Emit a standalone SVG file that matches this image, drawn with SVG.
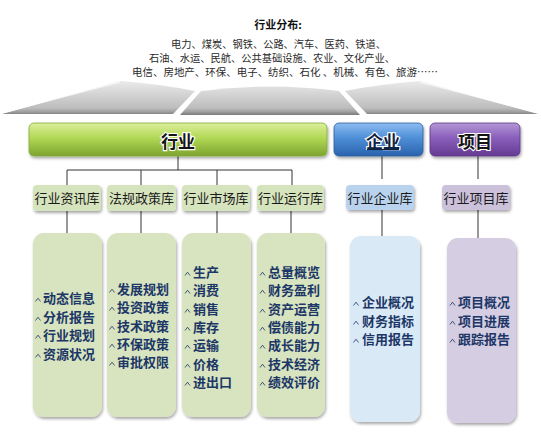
<svg xmlns="http://www.w3.org/2000/svg" width="541" height="432" viewBox="0 0 541 432">
<defs>
  <style>
    .top { font-family: "Noto Sans CJK SC", "Liberation Sans", sans-serif; font-size: 10px; fill: #2a2a2a; }
    .title { font-family: "Noto Sans CJK SC", "Liberation Sans", sans-serif; font-size: 11px; font-weight: bold; fill: #111; }
    .bar { font-family: "Noto Sans CJK SC", "Liberation Sans", sans-serif; font-size: 17px; font-weight: bold; fill: #141414; text-anchor: middle; stroke: #ffffff; stroke-width: 2.2px; paint-order: stroke; }
    .sub { font-family: "Noto Sans CJK SC", "Liberation Sans", sans-serif; font-size: 13px; fill: #1a1a1a; text-anchor: middle; }
    .item { font-family: "Noto Sans CJK SC", "Liberation Sans", sans-serif; font-size: 13px; font-weight: bold; fill: #1c3767; }
    .conn { stroke: #333; stroke-width: 1; fill: none; }
    .bul { stroke: #1c3767; stroke-width: 0.8; fill: none; }
  </style>
  <linearGradient id="gGray" x1="0" y1="80" x2="0" y2="115" gradientUnits="userSpaceOnUse">
    <stop offset="0" stop-color="#ececec"/>
    <stop offset="0.8" stop-color="#bdbdbd"/>
    <stop offset="0.9" stop-color="#a2a2a2"/>
    <stop offset="1" stop-color="#7a7a7a"/>
  </linearGradient>
  <linearGradient id="gGreen" x1="0" y1="0" x2="0" y2="1">
    <stop offset="0" stop-color="#dcef9c"/>
    <stop offset="0.45" stop-color="#b2d856"/>
    <stop offset="1" stop-color="#7da52e"/>
  </linearGradient>
  <linearGradient id="gBlue" x1="0" y1="0" x2="0" y2="1">
    <stop offset="0" stop-color="#8dbdf0"/>
    <stop offset="0.45" stop-color="#4f8fd8"/>
    <stop offset="1" stop-color="#2a62ad"/>
  </linearGradient>
  <linearGradient id="gPurple" x1="0" y1="0" x2="0" y2="1">
    <stop offset="0" stop-color="#b497d6"/>
    <stop offset="0.45" stop-color="#8a5fbb"/>
    <stop offset="1" stop-color="#653a92"/>
  </linearGradient>
  <filter id="sh" x="-10%" y="-10%" width="125%" height="130%">
    <feGaussianBlur in="SourceAlpha" stdDeviation="1.5"/>
    <feOffset dx="1" dy="2" result="b"/>
    <feComponentTransfer><feFuncA type="linear" slope="0.35"/></feComponentTransfer>
    <feMerge><feMergeNode/><feMergeNode in="SourceGraphic"/></feMerge>
  </filter>
  <path id="bullet" class="bul" d="M-2.5,1.5 L0,-1.8 L2.5,1.5"/>
</defs>
<rect x="0" y="0" width="541" height="432" fill="#ffffff"/>

<g id="header">
  <text class="title" x="278" y="29" text-anchor="middle">行业分布:</text>
  <text class="top" x="171" y="48" textLength="215" lengthAdjust="spacingAndGlyphs">电力、煤炭、钢铁、公路、汽车、医药、铁道、</text>
  <text class="top" x="149" y="62" textLength="246" lengthAdjust="spacingAndGlyphs">石油、水运、民航、公共基础设施、农业、文化产业、</text>
  <text class="top" x="132" y="76" textLength="306" lengthAdjust="spacingAndGlyphs">电信、房地产、环保、电子、纺织、石化 、机械、有色、旅游……</text>
</g>

<g id="fan">
  <path d="M2,114 L120,81 Q160,84 195,91 L173,114 Z" fill="url(#gGray)"/>
  <path d="M201,91 Q270,82 339,91 L360,115 L180,115 Z" fill="url(#gGray)"/>
  <path d="M345,91 Q380,84 420,81 L538,114 L367,114 Z" fill="url(#gGray)"/>
  <path d="M6,112 L120,82" stroke="#ffffff" stroke-width="1.2" opacity="0.8"/>
  <path d="M420,82 L534,112" stroke="#ffffff" stroke-width="1.2" opacity="0.8"/>
</g>

<g id="connectors">
  <path class="conn" d="M178,156 V170 M67,170 H292 M67,170 V185 M141,170 V185 M217,170 V185 M292,170 V185"/>
  <path class="conn" d="M67,211 V234 M141,211 V234 M217,211 V234 M291,211 V234"/>
  <path class="conn" d="M382,156 V179 M382,210 V237"/>
  <path class="conn" d="M478,156 V179 M478,210 V239"/>
</g>

<g id="bar-hangye">
  <rect x="29" y="123" width="298" height="33" rx="5" fill="url(#gGreen)" stroke="#87a93c" stroke-width="0.8" filter="url(#sh)"/>
  <text class="bar" x="178" y="147.5">行业</text>
</g>
<g id="bar-qiye">
  <rect x="334" y="123" width="89" height="33" rx="5" fill="url(#gBlue)" stroke="#2c5f9f" stroke-width="0.8" filter="url(#sh)"/>
  <text class="bar" x="383" y="147.5" style="fill:#0e2242">企业</text>
  <path d="M367,149.5 H399" stroke="#0e2242" stroke-width="1.2"/>
</g>
<g id="bar-xiangmu">
  <rect x="430" y="123" width="90" height="33" rx="5" fill="url(#gPurple)" stroke="#5e3787" stroke-width="0.8" filter="url(#sh)"/>
  <text class="bar" x="475" y="147.5">项目</text>
</g>

<g id="sub-zixun">
  <rect x="33" y="185" width="68" height="26" rx="4" fill="#d6e4bd" filter="url(#sh)"/>
  <text class="sub" x="67" y="203">行业资讯库</text>
</g>
<g id="sub-fagui">
  <rect x="107" y="185" width="69" height="26" rx="4" fill="#d6e4bd" filter="url(#sh)"/>
  <text class="sub" x="141.5" y="203">法规政策库</text>
</g>
<g id="sub-shichang">
  <rect x="182" y="185" width="68" height="26" rx="4" fill="#d6e4bd" filter="url(#sh)"/>
  <text class="sub" x="216" y="203">行业市场库</text>
</g>
<g id="sub-yunxing">
  <rect x="257" y="185" width="67" height="26" rx="4" fill="#d6e4bd" filter="url(#sh)"/>
  <text class="sub" x="290.5" y="203">行业运行库</text>
</g>
<g id="sub-qiye">
  <rect x="346" y="185" width="68" height="25" rx="4" fill="#b9d3ef" filter="url(#sh)"/>
  <text class="sub" x="380" y="202.5">行业企业库</text>
</g>
<g id="sub-xiangmu">
  <rect x="442" y="185" width="68" height="25" rx="4" fill="#ccc1db" filter="url(#sh)"/>
  <text class="sub" x="476" y="202.5">行业项目库</text>
</g>

<g id="box-zixun">
  <rect x="33" y="233" width="69" height="184" rx="11" fill="#d7e4bf" filter="url(#sh)"/>
  <use href="#bullet" x="38" y="300"/><text class="item" x="43" y="303">动态信息</text>
  <use href="#bullet" x="38" y="319"/><text class="item" x="43" y="322">分析报告</text>
  <use href="#bullet" x="38" y="337"/><text class="item" x="43" y="340">行业规划</text>
  <use href="#bullet" x="38" y="356"/><text class="item" x="43" y="359">资源状况</text>
</g>
<g id="box-fagui">
  <rect x="107" y="233" width="69" height="184" rx="11" fill="#d7e4bf" filter="url(#sh)"/>
  <use href="#bullet" x="112" y="291"/><text class="item" x="117" y="294">发展规划</text>
  <use href="#bullet" x="112" y="309"/><text class="item" x="117" y="312">投资政策</text>
  <use href="#bullet" x="112" y="328"/><text class="item" x="117" y="331">技术政策</text>
  <use href="#bullet" x="112" y="346"/><text class="item" x="117" y="349">环保政策</text>
  <use href="#bullet" x="112" y="364"/><text class="item" x="117" y="367">审批权限</text>
</g>
<g id="box-shichang">
  <rect x="182" y="233" width="69" height="184" rx="11" fill="#d7e4bf" filter="url(#sh)"/>
  <use href="#bullet" x="187.5" y="274"/><text class="item" x="193" y="277">生产</text>
  <use href="#bullet" x="187.5" y="292"/><text class="item" x="193" y="295">消费</text>
  <use href="#bullet" x="187.5" y="311"/><text class="item" x="193" y="314">销售</text>
  <use href="#bullet" x="187.5" y="329"/><text class="item" x="193" y="332">库存</text>
  <use href="#bullet" x="187.5" y="347"/><text class="item" x="193" y="350">运输</text>
  <use href="#bullet" x="187.5" y="366"/><text class="item" x="193" y="369">价格</text>
  <use href="#bullet" x="187.5" y="384"/><text class="item" x="193" y="387">进出口</text>
</g>
<g id="box-yunxing">
  <rect x="257" y="233" width="68" height="184" rx="11" fill="#d7e4bf" filter="url(#sh)"/>
  <use href="#bullet" x="262.5" y="274"/><text class="item" x="268" y="277">总量概览</text>
  <use href="#bullet" x="262.5" y="292"/><text class="item" x="268" y="295">财务盈利</text>
  <use href="#bullet" x="262.5" y="311"/><text class="item" x="268" y="314">资产运营</text>
  <use href="#bullet" x="262.5" y="329"/><text class="item" x="268" y="332">偿债能力</text>
  <use href="#bullet" x="262.5" y="347"/><text class="item" x="268" y="350">成长能力</text>
  <use href="#bullet" x="262.5" y="366"/><text class="item" x="268" y="369">技术经济</text>
  <use href="#bullet" x="262.5" y="384"/><text class="item" x="268" y="387">绩效评价</text>
</g>
<g id="box-qiye">
  <rect x="350" y="236" width="70" height="186" rx="11" fill="#d9eaf6" filter="url(#sh)"/>
  <use href="#bullet" x="356" y="304"/><text class="item" x="362" y="307">企业概况</text>
  <use href="#bullet" x="356" y="323"/><text class="item" x="362" y="326">财务指标</text>
  <use href="#bullet" x="356" y="341"/><text class="item" x="362" y="344">信用报告</text>
</g>
<g id="box-xiangmu">
  <rect x="447" y="238" width="69" height="185" rx="11" fill="#d5cde1" filter="url(#sh)"/>
  <use href="#bullet" x="452.5" y="304"/><text class="item" x="458" y="307">项目概况</text>
  <use href="#bullet" x="452.5" y="323"/><text class="item" x="458" y="326">项目进展</text>
  <use href="#bullet" x="452.5" y="341"/><text class="item" x="458" y="344">跟踪报告</text>
</g>
</svg>
